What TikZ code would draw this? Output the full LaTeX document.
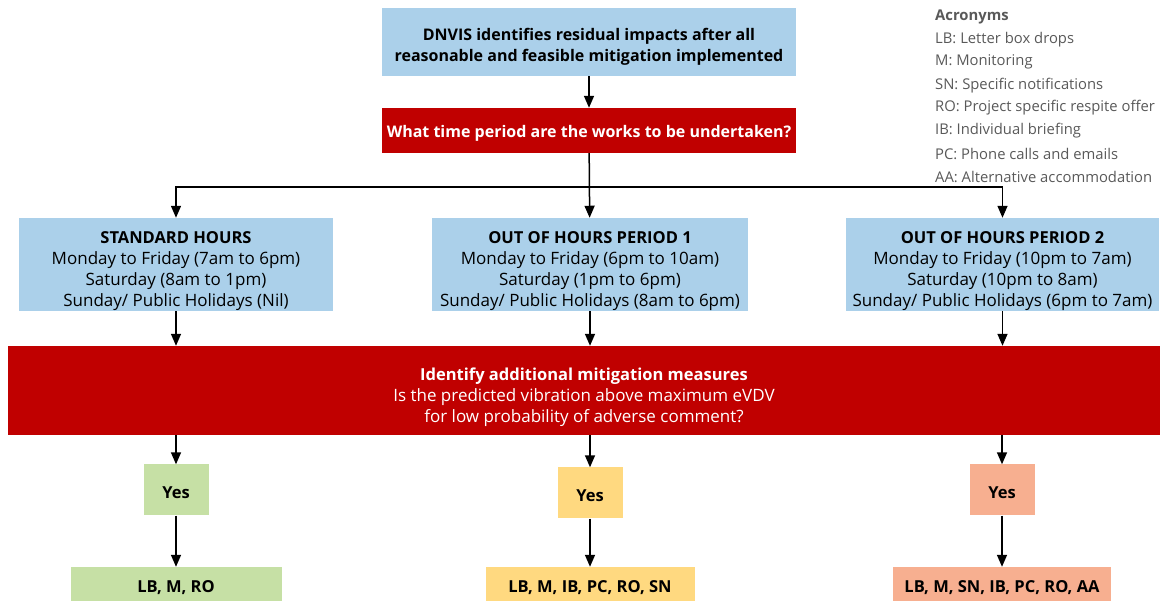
\documentclass[tikz,border=0pt]{standalone}
\usepackage{fontspec}
\setmainfont{Open Sans}
\usetikzlibrary{arrows.meta}
\definecolor{boxblue}{HTML}{ABD0EA}
\definecolor{darkred}{HTML}{C00000}
\definecolor{yesgreen}{HTML}{C6E0A5}
\definecolor{yesyellow}{HTML}{FFD980}
\definecolor{yessalmon}{HTML}{F7AF90}
\definecolor{acrogray}{HTML}{595959}
\newcommand{\hd}[1]{{\fontsize{16.5}{21}\selectfont\bfseries #1}}
\newcommand{\lift}[1]{\rule{0pt}{#1}}

\begin{document}
\begin{tikzpicture}[x=1pt,y=-1pt]
        \useasboundingbox (0,0) rectangle (1160,601);

        \tikzstyle{every node}=[inner sep=0pt,align=center,font=\fontsize{17}{21}\selectfont]
        \tikzstyle{bold}=[font=\fontsize{16}{21}\selectfont\bfseries]
        \tikzstyle{arr}=[line width=1.5pt,-{Triangle[length=12pt,width=10pt]}]

        \node[bold,fill=boxblue,minimum width=414,minimum height=68] (start) at (589,42) {\lift{22pt}DNVIS identifies residual impacts after all\\reasonable and feasible mitigation implemented};
        \node[bold,fill=darkred,text=white,minimum width=414,minimum height=45] (period) at (589,130.5) {\lift{18pt}What time period are the works to be undertaken?};

        % the three time periods
        \node[fill=boxblue,minimum width=314,minimum height=89] (std) at (176,264.5) {\lift{26pt}\hd{STANDARD HOURS}\\Monday to Friday (7am to 6pm)\\Saturday (8am to 1pm)\\Sunday/ Public Holidays (Nil)};
        \node[fill=boxblue,minimum width=316,minimum height=89] (ooh1) at (590,264.5) {\lift{26pt}\hd{OUT OF HOURS PERIOD 1}\\Monday to Friday (6pm to 10am)\\Saturday (1pm to 6pm)\\Sunday/ Public Holidays (8am to 6pm)};
        \node[fill=boxblue,minimum width=313,minimum height=89] (ooh2) at (1002.5,264.5) {\lift{26pt}\hd{OUT OF HOURS PERIOD 2}\\Monday to Friday (10pm to 7am)\\Saturday (10pm to 8am)\\Sunday/ Public Holidays (6pm to 7am)};

        \node[fill=darkred,text=white,minimum width=1152,minimum height=89] (measures) at (584,390.5) {\lift{26.5pt}\hd{Identify additional mitigation measures}\\Is the predicted vibration above maximum eVDV\\for low probability of adverse comment?};

        \foreach \i / \x / \y / \c / \w / \t in {1/176/490/yesgreen/211/{LB, M, RO},2/590/493/yesyellow/209/{LB, M, IB, PC, RO, SN},3/1002/490/yessalmon/218/{LB, M, SN, IB, PC, RO, AA}} {
            \node[fill=\c,minimum width=65,minimum height=51] (yes_\i) at (\x,\y) {\lift{18pt}\hd{Yes}};
            \node[fill=\c,minimum width=\w,minimum height=34] (todo_\i) at (\x,584) {\lift{20pt}\hd{\t}};
            \draw[arr] (yes_\i |- measures.south) -- (yes_\i);
            \draw[arr] (yes_\i) -- (todo_\i);
        }

        \coordinate (split) at (589,187);
        \draw[arr] (start) -- (period);
        \draw[arr] (period) -- (ooh1);
        \draw[arr] (split) -| (std);
        \draw[arr] (split) -| (ooh2);
        \foreach \p in {std,ooh1,ooh2} {
            \draw[arr] (\p) -- (\p |- measures.north);
        }

        % acronyms
        \node[anchor=west,text=acrogray,font=\fontsize{14.8}{18}\selectfont\bfseries] (acro_0) at (935,16.5) {Acronyms};
        \foreach \i / \t in {1/LB: Letter box drops,2/M: Monitoring,3/SN: Specific notifications,4/RO: Project specific respite offer,5/IB: Individual briefing,6/PC: Phone calls and emails,7/AA: Alternative accommodation} {
            \node[anchor=west,text=acrogray,font=\fontsize{14.8}{18}\selectfont] (acro_\i) at (935,16.5+22.9*\i) {\t};
        }

    \end{tikzpicture}
\end{document}
